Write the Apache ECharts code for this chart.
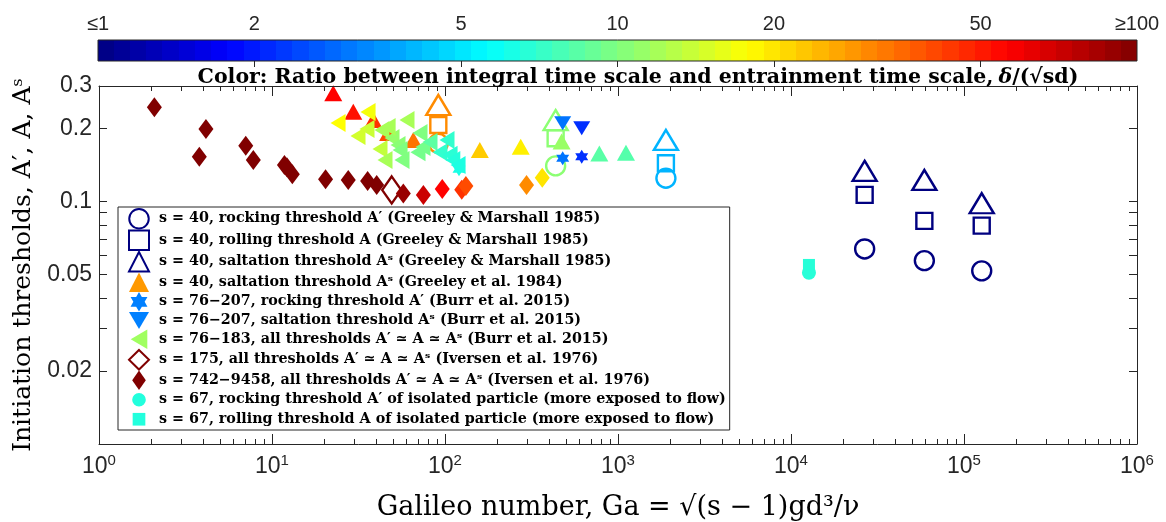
<!DOCTYPE html>
<html><head><meta charset="utf-8">
<script src="https://cdn.jsdelivr.net/npm/echarts@6/dist/echarts.min.js"></script>
<style>html,body{margin:0;padding:0;background:#fff}#chart{width:1166px;height:522px}</style>
</head><body><div id="chart"></div>
<script>
// ===================== DATA =====================
// Greeley & Marshall 1985, s = 40 (open markers)
const gmGa        = [91.5, 436, 1892, 26650, 59000, 126600];
const gmRocking   = [0.174, 0.1404, 0.1249, 0.0638, 0.0571, 0.0518];
const gmRolling   = [0.207, 0.1826, 0.144, 0.1066, 0.0833, 0.0796];
const gmSaltation = [0.2505, 0.217, 0.1797, 0.134, 0.1229, 0.0985];
const gmRatio     = [30, 10.6, 4.0, 1, 1, 1];
// Greeley et al. 1984, s = 40, saltation threshold
const g84Ga    = [22.6, 29.5, 38.5, 46.9, 65.6, 159, 274, 472, 780, 1112];
const g84Salt  = [0.28, 0.235, 0.217, 0.192, 0.1797, 0.1634, 0.1686, 0.1769, 0.158, 0.159];
const g84Ratio = [56, 52, 45, 40, 33.5, 22.4, 19, 11.2, 8.4, 8.2];
// Burr et al. 2015, s = 76-207, rocking threshold
const burrRockGa    = [120.5, 479, 617];
const burrRock      = [0.136, 0.151, 0.153];
const burrRockRatio = [6.3, 3.0, 2.2];
// Burr et al. 2015, s = 76-207, saltation threshold
const burrSaltGa    = [479, 617];
const burrSalt      = [0.2106, 0.201];
const burrSaltRatio = [3.0, 2.2];
// Burr et al. 2015, s = 76-183, all thresholds
const burrAllGa    = [24.1, 35.9, 35.4, 31.4, 43.2, 42.1, 49.4, 46.9, 60.3, 53.5, 55, 56.4, 71.7, 74.6, 69.8, 81.9, 102.7, 93.6, 107, 111, 119, 45];
const burrAll      = [0.2112, 0.2345, 0.1995, 0.1866, 0.1976, 0.165, 0.183, 0.2033, 0.2173, 0.1714, 0.1634, 0.1486, 0.192, 0.168, 0.16, 0.1763, 0.1797, 0.16, 0.156, 0.1486, 0.1417, 0.1486];
const burrAllRatio = [17.8, 17, 14, 14.5, 12, 13.5, 11, 12, 12, 10.5, 10, 10, 10, 9.5, 9.5, 8.5, 7, 7, 6.8, 6.6, 6.4, 12];
// Iversen et al. 1976, s = 175
const iv175Ga    = [49.2];
const iv175      = [0.1118];
const iv175Ratio = [100];
// Iversen et al. 1976, s = 742-9458
const ivGa    = [2.09, 4.15, 3.80, 7.05, 7.8, 11.8, 12.2, 13.1, 20.4, 27.6, 35.7, 40.3, 57.4, 75, 96.4, 125, 132, 296, 365];
const ivThr   = [0.245, 0.1995, 0.153, 0.170, 0.1486, 0.1417, 0.1387, 0.1297, 0.1237, 0.1229, 0.1217, 0.1172, 0.108, 0.1066, 0.1128, 0.112, 0.116, 0.117, 0.1256];
const ivRatio = [100, 100, 100, 100, 100, 100, 100, 100, 100, 100, 100, 100, 89, 71, 56, 45, 40, 30, 20];
// s = 67, isolated particle
const isoGa      = [12700];
const isoRocking = [0.0509];
const isoRolling = [0.0548];
const isoRatio   = [6.7];

// Axis tick values / labels
const xMajorTicks = [1, 10, 100, 1000, 10000, 100000, 1000000];
const xMinorTicks = [];
xMajorTicks.slice(0, -1).forEach(d => { for (let k = 2; k <= 9; k++) xMinorTicks.push(d * k); });
const yTickValues  = [0.02, 0.03, 0.04, 0.05, 0.06, 0.07, 0.08, 0.09, 0.1, 0.2, 0.3];
const yLabelValues = [0.02, 0.05, 0.1, 0.2, 0.3];
const cbLabelValues = [1, 2, 5, 10, 20, 50, 100];
const cbTickValues  = [2, 5, 10, 20, 50];
const cbRange = [1, 100];

const legendNames = [
  's = 40, rocking threshold A\u2032 (Greeley & Marshall 1985)',
  's = 40, rolling threshold A (Greeley & Marshall 1985)',
  's = 40, saltation threshold A\u02E2 (Greeley & Marshall 1985)',
  's = 40, saltation threshold A\u02E2 (Greeley et al. 1984)',
  's = 76\u2212207, rocking threshold A\u2032 (Burr et al. 2015)',
  's = 76\u2212207, saltation threshold A\u02E2 (Burr et al. 2015)',
  's = 76\u2212183, all thresholds A\u2032 \u2243 A \u2243 A\u02E2 (Burr et al. 2015)',
  's = 175, all thresholds A\u2032 \u2243 A \u2243 A\u02E2 (Iversen et al. 1976)',
  's = 742\u22129458, all thresholds A\u2032 \u2243 A \u2243 A\u02E2 (Iversen et al. 1976)',
  's = 67, rocking threshold A\u2032 of isolated particle (more exposed to flow)',
  's = 67, rolling threshold A of isolated particle (more exposed to flow)'
];

// ===================== helpers =====================
function clamp01(v) { return Math.max(0, Math.min(1, v)); }
function jet(t) {
  const r = clamp01(Math.min(4 * t - 1.5, -4 * t + 4.5));
  const g = clamp01(Math.min(4 * t - 0.5, -4 * t + 3.5));
  const b = clamp01(Math.min(4 * t + 0.5, -4 * t + 2.5));
  return 'rgb(' + Math.round(r * 255) + ',' + Math.round(g * 255) + ',' + Math.round(b * 255) + ')';
}
function ratioColor(r) { return jet(clamp01(Math.log10(r) / 2)); }
function pts(ga, thr, ratio, open) {
  return ga.map((g, i) => ({
    value: [g, thr[i]],
    itemStyle: open ? { borderColor: ratioColor(ratio[i]) } : { color: ratioColor(ratio[i]) }
  }));
}
const HEX = 'path://M0,-10L2.9,-5L8.66,-5L5.8,0L8.66,5L2.9,5L0,10L-2.9,5L-8.66,5L-5.8,0L-8.66,-5L-2.9,-5Z';
const DOWN_TRI = 'path://M0,0L20,0L10,17Z';
const LEFT_TRI = 'path://M0,10L17,0L17,20Z';
const TALL_DIAMOND = 'path://M10,0L17,10L10,20L3,10Z';
const NAVY = 'rgb(0,0,128)';
const open = (c) => ({ color: 'rgba(255,255,255,0)', borderColor: c, borderWidth: 2.4, opacity: 1 });
const fill = (c) => ({ color: c, opacity: 1 });

const serif = 'DejaVu Serif';
const sans = 'Liberation Sans';
const axisColor = '#262626';

function scatter(name, data, symbol, size, style) {
  return {
    name, type: 'scatter', xAxisIndex: 0, yAxisIndex: 0, data,
    symbol, symbolSize: size, itemStyle: style,
    emphasis: { disabled: true }, animation: false
  };
}

const series = [
  scatter(legendNames[0], pts(gmGa, gmRocking, gmRatio, true), 'circle', 19, open(NAVY)),
  scatter(legendNames[1], pts(gmGa, gmRolling, gmRatio, true), 'rect', 16, open(NAVY)),
  scatter(legendNames[2], pts(gmGa, gmSaltation, gmRatio, true), 'triangle', [24, 20], open(NAVY)),
  scatter(legendNames[3], pts(g84Ga, g84Salt, g84Ratio, false), 'triangle', [18, 16], fill('rgb(255,153,0)')),
  scatter(legendNames[4], pts(burrRockGa, burrRock, burrRockRatio, false), HEX, [13, 14], fill('rgb(0,128,255)')),
  scatter(legendNames[5], pts(burrSaltGa, burrSalt, burrSaltRatio, false), DOWN_TRI, [17, 14], fill('rgb(0,128,255)')),
  scatter(legendNames[6], pts(burrAllGa, burrAll, burrAllRatio, false), LEFT_TRI, [15, 18], fill('rgb(160,255,96)')),
  scatter(legendNames[7], pts(iv175Ga, iv175, iv175Ratio, true), 'diamond', [19, 27], open('rgb(128,0,0)')),
  scatter(legendNames[8], pts(ivGa, ivThr, ivRatio, false), 'diamond', [15, 20], fill('rgb(128,0,0)')),
  scatter(legendNames[9], pts(isoGa, isoRocking, isoRatio, false), 'circle', 14, fill('rgb(34,255,221)')),
  scatter(legendNames[10], pts(isoGa, isoRolling, isoRatio, false), 'rect', 12, fill('rgb(34,255,221)')),
  {
    type: 'custom', xAxisIndex: 4, yAxisIndex: 2, silent: true, animation: false,
    data: [cbRange],
    renderItem: function (params, api) {
      const p0 = api.coord([api.value(0), 0]);
      const p1 = api.coord([api.value(1), 1]);
      const stops = [];
      const n = 64;
      for (let i = 0; i < n; i++) {
        const c = jet((i + 0.5) / n);
        stops.push({ offset: i / n, color: c }, { offset: (i + 1) / n, color: c });
      }
      return {
        type: 'rect',
        shape: { x: p0[0], y: p1[1], width: p1[0] - p0[0], height: p0[1] - p1[1] },
        style: { fill: new echarts.graphic.LinearGradient(0, 0, 1, 0, stops), stroke: axisColor, lineWidth: 1 }
      };
    }
  }
];

const xLabelRich = {
  b: { fontFamily: sans, fontSize: 23, color: axisColor },
  e: { fontFamily: sans, fontSize: 15, color: axisColor, verticalAlign: 'top', padding: [0, 0, 12, 0] }
};
function xMajorAxis(pos, showLabel) {
  return {
    type: 'log', logBase: 10, min: 1, max: 1000000, gridIndex: 0, position: pos, z: 5,
    axisLine: { show: true, lineStyle: { color: axisColor, width: 1 } },
    axisTick: { show: true, inside: true, length: 10, customValues: xMajorTicks, lineStyle: { color: axisColor } },
    axisLabel: showLabel ? {
      show: true, margin: 9, customValues: xMajorTicks,
      formatter: v => '{b|10}{e|' + Math.round(Math.log10(v)) + '}', rich: xLabelRich
    } : { show: false },
    splitLine: { show: false }, minorTick: { show: false },
    name: showLabel ? 'Galileo number, Ga = \u221A(s \u2212 1)gd\u00B3/\u03BD' : '',
    nameLocation: 'middle', nameGap: 50,
    nameTextStyle: { fontFamily: serif, fontSize: 27, color: '#000' }
  };
}
function xMinorAxis(pos) {
  return {
    type: 'log', logBase: 10, min: 1, max: 1000000, gridIndex: 0, position: pos, z: 5,
    axisLine: { show: false },
    axisTick: { show: true, inside: true, length: 5, customValues: xMinorTicks, lineStyle: { color: axisColor } },
    axisLabel: { show: false }, splitLine: { show: false }
  };
}
function yAxisMain(pos, showLabel) {
  return {
    type: 'log', logBase: 10, min: 0.01, max: 0.3, gridIndex: 0, position: pos, z: 5,
    axisLine: { show: true, lineStyle: { color: axisColor, width: 1 } },
    axisTick: { show: true, inside: true, length: 8, customValues: yTickValues, lineStyle: { color: axisColor } },
    axisLabel: showLabel ? {
      show: true, margin: 7, customValues: yLabelValues,
      formatter: v => String(+(+v).toPrecision(2)),
      fontFamily: sans, fontSize: 23, color: axisColor
    } : { show: false },
    splitLine: { show: false }, minorTick: { show: false },
    name: showLabel ? 'Initiation thresholds, A\u2032, A, A\u02E2' : '',
    nameLocation: 'middle', nameGap: 55,
    nameTextStyle: { fontFamily: serif, fontSize: 25, color: '#000' }
  };
}

const legendIcons = [null, null, null, null, null, null, null, null, TALL_DIAMOND,
  'path://M0,0M20,20M3,10A7,7,0,1,1,17,10A7,7,0,1,1,3,10Z',
  'path://M0,0M20,20M3.5,3.5L16.5,3.5L16.5,16.5L3.5,16.5Z'];

const option = {
  backgroundColor: '#fff',
  animation: false,
  title: {
    left: 633, top: 62, textAlign: 'center',
    text: '{b|Color: Ratio between integral time scale and entrainment time scale,} {i|\u03B4}{b|/(\u221Asd)}',
    textStyle: {
      rich: {
        b: { fontFamily: serif, fontWeight: 'bold', fontSize: 20.5, color: '#000' },
        i: { fontFamily: serif, fontStyle: 'italic', fontSize: 20.5, color: '#000' }
      }
    }
  },
  grid: [
    { left: 99, top: 86, width: 1038, height: 358, show: false, containLabel: false, outerBoundsMode: 'none' },
    { left: 98, top: 40, width: 1039, height: 21, show: false, containLabel: false, outerBoundsMode: 'none' }
  ],
  xAxis: [
    xMajorAxis('bottom', true),
    xMinorAxis('bottom'),
    xMajorAxis('top', false),
    xMinorAxis('top'),
    {
      type: 'log', logBase: 10, min: 1, max: 100, gridIndex: 1, position: 'top', z: 10,
      axisLine: { show: false },
      axisTick: { show: true, inside: true, length: 6, customValues: cbTickValues, lineStyle: { color: axisColor } },
      axisLabel: {
        show: true, margin: 6, customValues: cbLabelValues,
        formatter: v => { const r = Math.round(v); return r <= 1 ? '\u22641' : (r >= 100 ? '\u2265100' : String(r)); },
        fontFamily: sans, fontSize: 20, color: axisColor
      },
      splitLine: { show: false }
    }
  ],
  yAxis: [
    yAxisMain('left', true),
    yAxisMain('right', false),
    { type: 'value', min: 0, max: 1, gridIndex: 1, show: false }
  ],
  legend: {
    orient: 'vertical', left: 118, top: 207,
    itemWidth: 20, itemHeight: 19.5, itemGap: 0,
    padding: [1, 4, 1, 10],
    backgroundColor: '#fff', borderColor: axisColor, borderWidth: 1, borderRadius: 0,
    selectedMode: false,
    data: legendNames.map((n, i) => legendIcons[i] ? { name: n, icon: legendIcons[i] } : n),
    textStyle: { fontFamily: serif, fontWeight: 'bold', fontSize: 14.3, lineHeight: 18, color: '#000', padding: [0, 0, 0, 5] }
  },
  series
};

const chart = echarts.init(document.getElementById('chart'), null, { renderer: 'canvas' });
chart.setOption(option);
</script>
</body></html>
